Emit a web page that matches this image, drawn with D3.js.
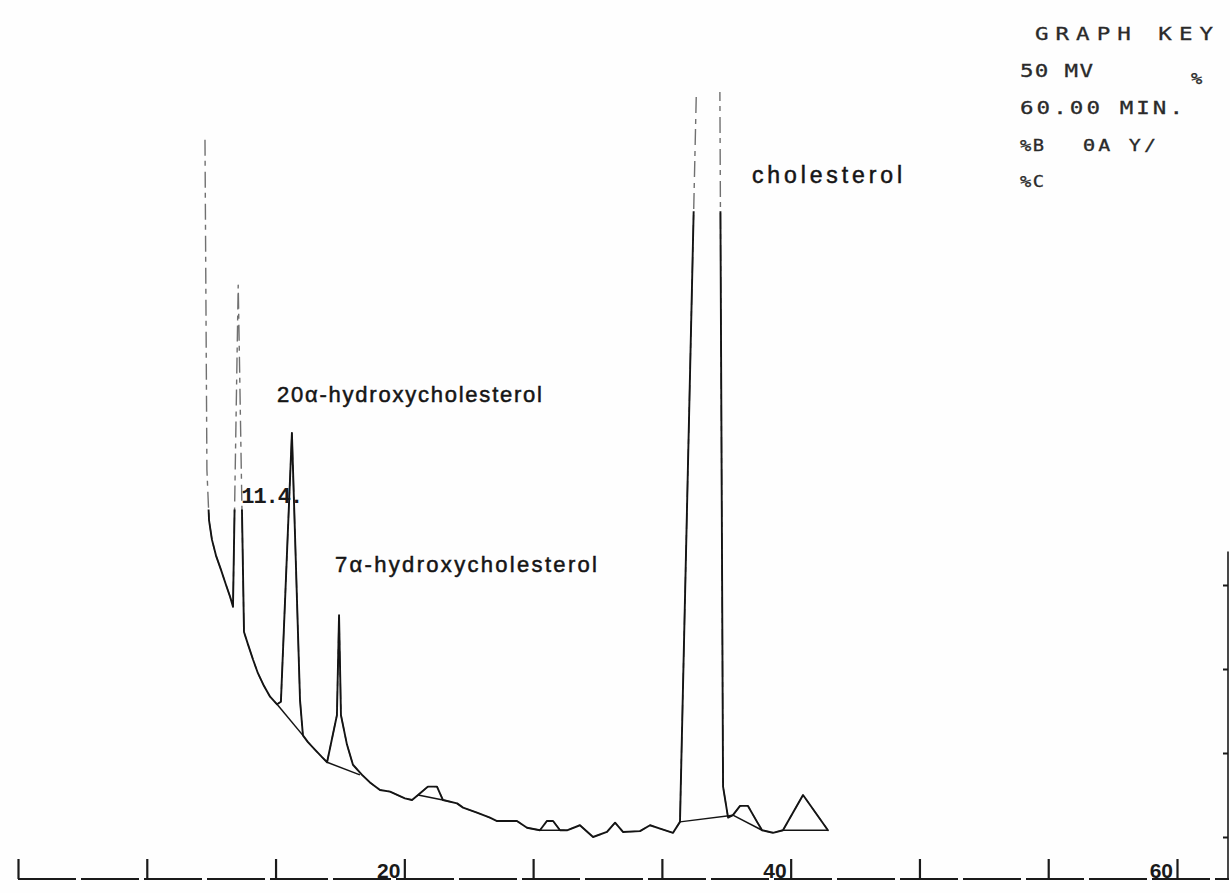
<!DOCTYPE html>
<html>
<head>
<meta charset="utf-8">
<script src="https://cdn.jsdelivr.net/npm/d3@7"></script>
<style>
  html, body { margin: 0; padding: 0; background: #ffffff; }
  svg { display: block; }
</style>
</head>
<body>
<svg id="chart" width="1230" height="893"></svg>
<script>
// ---- Recorder trace: retention time (min) and detector response ----
const traceTime = [
  9.68, 9.78, 9.89, 10.04, 10.25, 10.51, 10.77, 10.98, 11.13, 11.40,
  11.70, 11.91, 12.17, 12.42, 12.73, 13.05, 13.41, 13.61, 14.18, 14.60,
  14.75, 15.01, 15.37, 15.74, 16.00, 16.51, 16.62, 16.72, 17.03, 17.34,
  17.81, 18.22, 18.74, 19.26, 20.03, 20.40, 20.71, 21.22, 21.69, 22.00,
  22.73, 23.04, 23.76, 24.43, 24.80, 25.83, 26.35, 27.02, 27.38, 27.70,
  28.06, 28.42, 29.09, 29.77, 30.49, 30.91, 31.32, 32.20, 32.72, 33.24,
  33.91, 34.27, 36.13, 36.50, 36.76, 37.01, 37.38, 37.79, 38.26, 38.52,
  39.08, 39.60, 40.64, 41.93
];
const traceSignal = [
  83.0, 43.7, 37.7, 35.4, 33.5, 31.8, 30.0, 28.6, 27.4, 65.7,
  24.4, 22.9, 21.1, 19.5, 18.0, 16.7, 15.8, 16.1, 48.1, 16.3,
  12.1, 11.3, 10.4, 9.5, 8.9, 14.5, 26.4, 14.5, 11.0, 8.6,
  7.4, 6.5, 5.6, 5.4, 4.6, 4.4, 5.0, 6.0, 6.0, 4.4,
  4.0, 3.5, 2.9, 2.3, 1.9, 1.9, 1.1, 0.8, 1.9, 1.9,
  0.8, 0.8, 1.4, 0.0, 0.6, 1.7, 0.6, 0.7, 1.4, 1.0,
  0.5, 1.8, 192.6, 6.0, 2.3, 2.6, 3.7, 3.7, 1.8, 0.8,
  0.5, 0.8, 5.0, 0.8
];

// ---- Integrator baselines drawn under resolved peaks ----
const baseStartTime   = [13.41, 16.00, 20.71, 27.02, 34.27, 37.01, 39.60];
const baseStartSignal = [15.8, 8.9, 5.0, 0.8, 1.8, 2.6, 0.8];
const baseEndTime     = [14.75, 17.70, 22.00, 28.06, 37.01, 38.52, 41.93];
const baseEndSignal   = [12.1, 7.4, 4.4, 0.8, 2.6, 0.8, 0.8];

// ---- Peak names and printed retention time ----
const peakNames = ["20\u03b1-hydroxycholesterol", "7\u03b1-hydroxycholesterol", "cholesterol"];
const retentionTimes = [11.4];

// ---- Axes ----
const timeTicks = [0, 6.667, 13.333, 20, 26.667, 33.333, 40, 46.667, 53.333, 60];
const timeTickLabels = [20, 40, 60];
const signalTicks = [0, 10, 20, 30];

// ---- Graph key printed by the integrator ----
const keyLines = ["GRAPH KEY", "50 MV", "60.00 MIN.", "%B", "\u0398A Y/", "%C", "%"];

const svg = d3.select("#chart");
const W = 1230, H = 893;

svg.append("rect").attr("width", W).attr("height", H).attr("fill", "#fefefe");

const x = d3.scaleLinear().domain([0, 60]).range([18, 1177]);
const y = d3.scaleLinear().domain([-5, 100]).range([879, -3]);

const defs = svg.append("defs");

// pen runs off the top of the chart paper
defs.append("clipPath").attr("id", "paper")
  .append("rect").attr("x", 0).attr("y", y(88.7)).attr("width", W).attr("height", H);

// regions where the pen leaves a solid line
const solid = defs.append("clipPath").attr("id", "solidInk");
solid.append("rect").attr("x", 0).attr("y", y(39)).attr("width", x(13)).attr("height", H);
solid.append("rect").attr("x", x(13)).attr("y", 0).attr("width", x(30) - x(13)).attr("height", H);
solid.append("rect").attr("x", x(30)).attr("y", y(74.5)).attr("width", W - x(30)).attr("height", H);

const pts = traceTime.map((t, i) => [t, traceSignal[i]]);
const line = d3.line().x(d => x(d[0])).y(d => y(d[1]));

const traceG = svg.append("g").attr("clip-path", "url(#paper)");

// faint, broken ink on the fast pen strokes
traceG.append("path")
  .attr("d", line(pts))
  .attr("fill", "none")
  .attr("stroke", "#707070")
  .attr("stroke-width", 1.4)
  .attr("stroke-dasharray", "16 5 5 6")
  .attr("stroke-linejoin", "round");

// solid ink
traceG.append("g").attr("clip-path", "url(#solidInk)")
  .append("path")
  .attr("d", line(pts))
  .attr("fill", "none")
  .attr("stroke", "#141414")
  .attr("stroke-width", 1.9)
  .attr("stroke-linejoin", "round")
  .attr("stroke-linecap", "round");

// integrator baselines
svg.append("g").selectAll("line")
  .data(baseStartTime.map((t, i) => i))
  .join("line")
  .attr("x1", i => x(baseStartTime[i])).attr("y1", i => y(baseStartSignal[i]))
  .attr("x2", i => x(baseEndTime[i])).attr("y2", i => y(baseEndSignal[i]))
  .attr("stroke", "#141414").attr("stroke-width", 1.5);

// ---- time axis: printed base line with tick bars ----
svg.append("line")
  .attr("x1", x(0)).attr("x2", 1229)
  .attr("y1", y(-5)).attr("y2", y(-5))
  .attr("stroke", "#1a1a1a").attr("stroke-width", 2)
  .attr("stroke-dasharray", "58 5");

const xAxis = d3.axisTop(x).tickValues(timeTicks).tickSize(20).tickFormat("");
const xg = svg.append("g").attr("transform", `translate(0,${y(-5)})`).call(xAxis);
xg.select(".domain").remove();
xg.selectAll(".tick line").attr("stroke", "#1a1a1a").attr("stroke-width", 2.2);

svg.append("g").selectAll("text")
  .data(timeTickLabels)
  .join("text")
  .attr("x", d => x(d) - 4)
  .attr("y", y(-5) - 1)
  .attr("text-anchor", "end")
  .attr("font-family", "'Liberation Sans', Arial, sans-serif")
  .attr("font-weight", "bold")
  .attr("font-size", 21)
  .attr("fill", "#1a1a1a")
  .text(d => d);

// ---- response axis on the right edge ----
const yAxis = d3.axisLeft(y).tickValues(signalTicks).tickSize(5).tickFormat("");
const yg = svg.append("g").attr("transform", "translate(1228,0)").call(yAxis);
yg.select(".domain").remove();
yg.selectAll(".tick line").attr("stroke", "#1a1a1a").attr("stroke-width", 2);
svg.append("line")
  .attr("x1", 1228).attr("x2", 1228)
  .attr("y1", y(34)).attr("y2", y(-5))
  .attr("stroke", "#1a1a1a").attr("stroke-width", 1.6);

// ---- peak labels ----
const labelFont = "'Liberation Sans', Arial, Helvetica, sans-serif";
const peakLabelLayout = [
  { x: 277, y: 402, w: 265, s: 22 },
  { x: 335, y: 572, w: 262, s: 22 },
  { x: 752, y: 183, w: 150, s: 23 }
];
svg.append("g").selectAll("text")
  .data(peakNames)
  .join("text")
  .attr("x", (d, i) => peakLabelLayout[i].x)
  .attr("y", (d, i) => peakLabelLayout[i].y)
  .attr("textLength", (d, i) => peakLabelLayout[i].w)
  .attr("lengthAdjust", "spacing")
  .attr("font-family", labelFont)
  .attr("font-size", (d, i) => peakLabelLayout[i].s)
  .attr("fill", "#151515")
  .attr("stroke", "#151515")
  .attr("stroke-width", 0.5)
  .text(d => d);

// printed retention time next to its peak
svg.append("g").selectAll("text")
  .data(retentionTimes)
  .join("text")
  .attr("x", d => x(d) + 3)
  .attr("y", 503)
  .attr("letter-spacing", -1)
  .attr("font-family", "'Liberation Mono', 'Courier New', monospace")
  .attr("font-weight", "bold")
  .attr("font-size", 22)
  .attr("fill", "#1a1a1a")
  .text(d => d3.format(".1f")(d) + ".");

// ---- graph key: wide dot-matrix style print ----
const keyStretch = 1.25;
const keyLayout = [
  { x: 1035, y: 40,  w: 178, s: 18 },
  { x: 1020, y: 77,  w: 73,  s: 18 },
  { x: 1020, y: 114, w: 163, s: 18 },
  { x: 1020, y: 151, w: 24,  s: 15 },
  { x: 1083, y: 151, w: 73,  s: 16 },
  { x: 1020, y: 187, w: 24,  s: 15 },
  { x: 1191, y: 84,  w: 10,  s: 15 }
];
svg.append("g").selectAll("text")
  .data(keyLines)
  .join("text")
  .attr("transform", (d, i) => `translate(${keyLayout[i].x},${keyLayout[i].y}) scale(${keyStretch},1)`)
  .attr("textLength", (d, i) => keyLayout[i].w / keyStretch)
  .attr("lengthAdjust", "spacing")
  .attr("font-family", "'DejaVu Sans Mono', 'Liberation Mono', monospace")
  .attr("font-size", (d, i) => keyLayout[i].s)
  .attr("fill", "#2a2a2a")
  .attr("stroke", "#2a2a2a")
  .attr("stroke-width", 0.3)
  .text(d => d);
</script>
</body>
</html>
